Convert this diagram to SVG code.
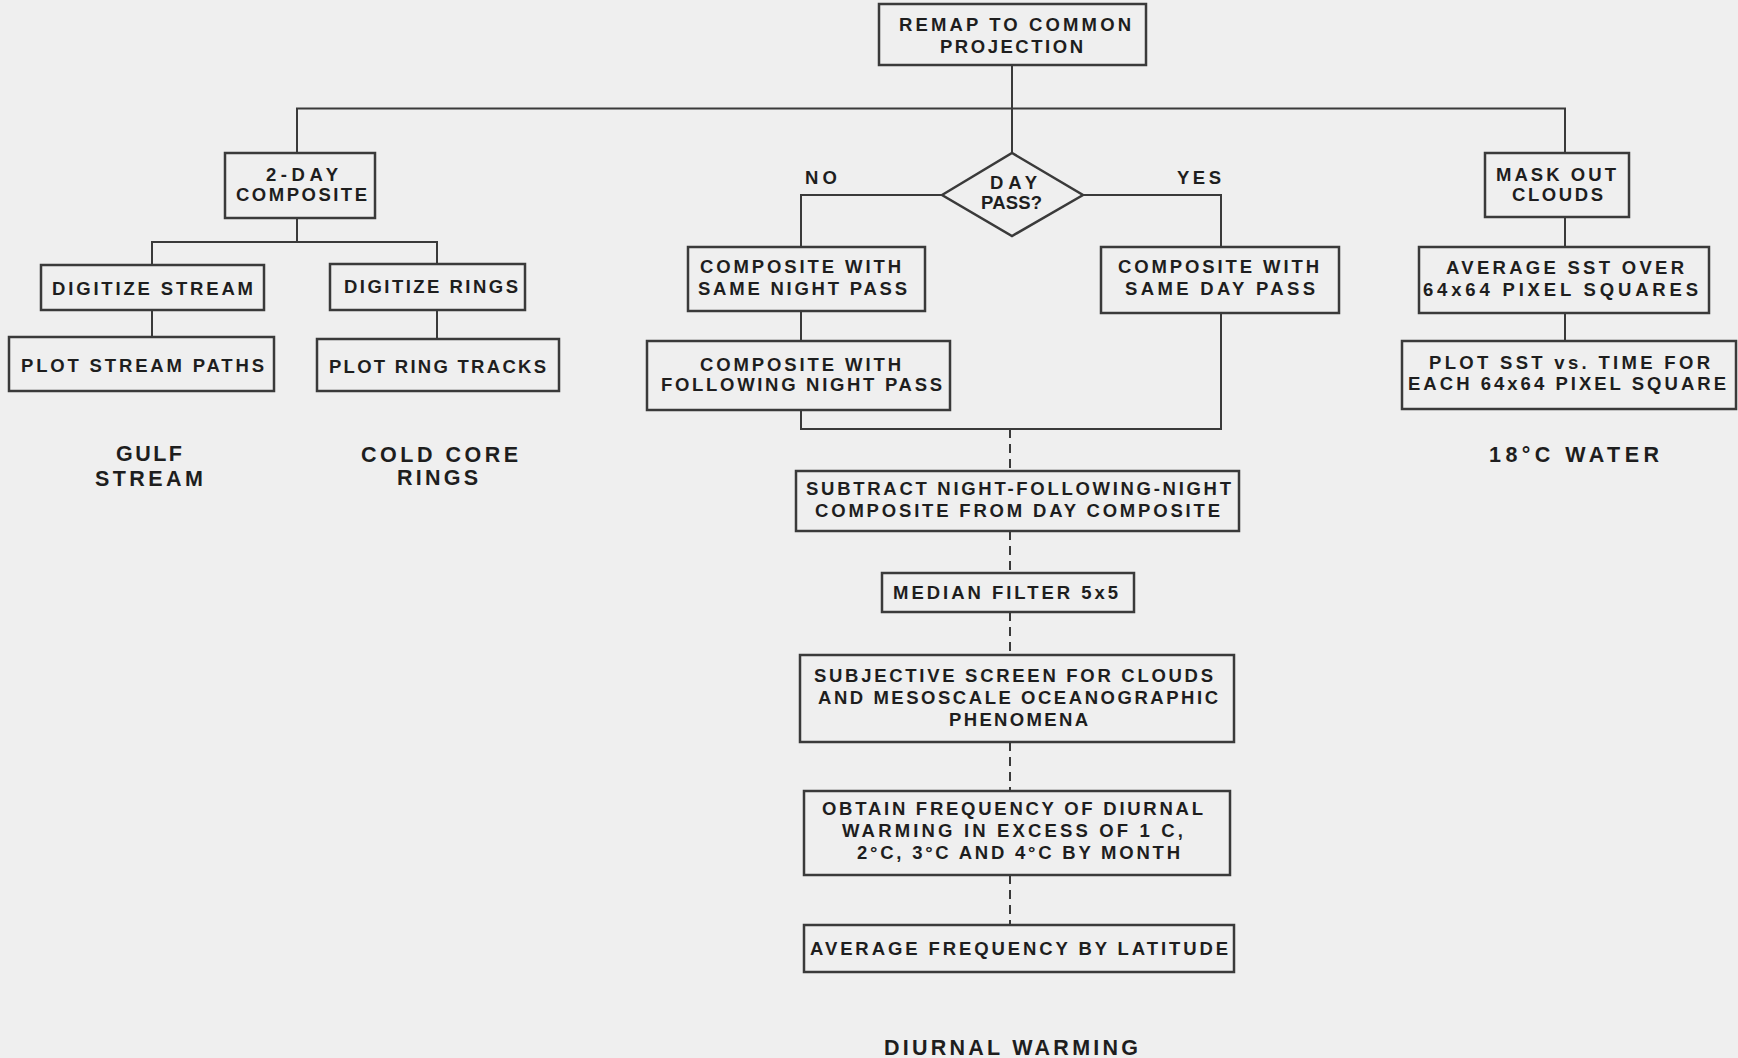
<svg xmlns="http://www.w3.org/2000/svg" width="1738" height="1058" viewBox="0 0 1738 1058">
<style>
.bg{fill:#efefef}
.box{fill:none;stroke:#3a3a3a;stroke-width:2.5}
.ln{fill:none;stroke:#3a3a3a;stroke-width:2}
.dash{fill:none;stroke:#3a3a3a;stroke-width:2;stroke-dasharray:9 6}
text{font-family:"Liberation Sans",Arial,sans-serif;fill:#1e1e1e}
.t{font-size:18.5px;font-weight:bold}
.lbl{font-size:21.5px;font-weight:bold}
</style>
<rect class="bg" x="0" y="0" width="1738" height="1058"/>
<g id="connectors">
<path class="ln" d="M1012 65 V153"/>
<path class="ln" d="M297 153 V108.5 H1565 V153"/>
<path class="ln" d="M297 218 V242"/>
<path class="ln" d="M152 265 V242 H437 V264"/>
<path class="ln" d="M152 310 V337"/>
<path class="ln" d="M437 310 V339"/>
<path class="ln" d="M942 195 H801 V247"/>
<path class="ln" d="M1083 195 H1221 V247"/>
<path class="ln" d="M801 311 V341"/>
<path class="ln" d="M801 410 V429 H1221 V313"/>
<path class="dash" d="M1010 429 V471"/>
<path class="dash" d="M1010 531 V573"/>
<path class="dash" d="M1010 612 V655"/>
<path class="dash" d="M1010 742 V791"/>
<path class="dash" d="M1010 875 V925"/>
<path class="ln" d="M1565 217 V247"/>
<path class="ln" d="M1565 313 V341"/>
</g>
<g id="remap"><rect class="box" x="879" y="4" width="267" height="61"/>
<text class="t" x="899" y="30.5" textLength="232">REMAP TO COMMON</text>
<text class="t" x="940" y="52.5" textLength="143">PROJECTION</text></g>
<g id="two-day"><rect class="box" x="225" y="153" width="150" height="65"/>
<text class="t" x="266" y="181" textLength="72">2-DAY</text>
<text class="t" x="236" y="201" textLength="131">COMPOSITE</text></g>
<g id="digitize-stream"><rect class="box" x="41" y="265" width="223" height="45"/>
<text class="t" x="52" y="295" textLength="201">DIGITIZE STREAM</text></g>
<g id="digitize-rings"><rect class="box" x="330" y="264" width="195" height="46"/>
<text class="t" x="344" y="293" textLength="174">DIGITIZE RINGS</text></g>
<g id="plot-stream"><rect class="box" x="9" y="337" width="265" height="54"/>
<text class="t" x="21" y="372" textLength="243">PLOT STREAM PATHS</text></g>
<g id="plot-rings"><rect class="box" x="317" y="339" width="242" height="52"/>
<text class="t" x="329" y="373" textLength="217">PLOT RING TRACKS</text></g>
<g id="label-gulf"><text class="lbl" x="116" y="460.5" textLength="66">GULF</text>
<text class="lbl" x="95" y="485.5" textLength="108">STREAM</text></g>
<g id="label-rings"><text class="lbl" x="361" y="462" textLength="157">COLD CORE</text>
<text class="lbl" x="397" y="485" textLength="81">RINGS</text></g>
<g id="day-pass"><polygon class="box" points="942,195 1012,153 1083,195 1012,236"/>
<text class="t" x="990" y="189" textLength="47">DAY</text>
<text class="t" x="981" y="209" textLength="61">PASS?</text></g>
<g id="label-no"><text class="t" x="805" y="184" textLength="32">NO</text></g>
<g id="label-yes"><text class="t" x="1177" y="184" textLength="44">YES</text></g>
<g id="same-night"><rect class="box" x="688" y="247" width="237" height="64"/>
<text class="t" x="700" y="273" textLength="201">COMPOSITE WITH</text>
<text class="t" x="698" y="295" textLength="209">SAME NIGHT PASS</text></g>
<g id="following-night"><rect class="box" x="647" y="341" width="303" height="69"/>
<text class="t" x="700" y="370.5" textLength="201">COMPOSITE WITH</text>
<text class="t" x="661" y="390.5" textLength="281">FOLLOWING NIGHT PASS</text></g>
<g id="same-day"><rect class="box" x="1101" y="247" width="238" height="66"/>
<text class="t" x="1118" y="273" textLength="201">COMPOSITE WITH</text>
<text class="t" x="1125" y="295" textLength="190">SAME DAY PASS</text></g>
<g id="subtract"><rect class="box" x="796" y="471" width="443" height="60"/>
<text class="t" x="806" y="495" textLength="425">SUBTRACT NIGHT-FOLLOWING-NIGHT</text>
<text class="t" x="815" y="517" textLength="405">COMPOSITE FROM DAY COMPOSITE</text></g>
<g id="median"><rect class="box" x="882" y="573" width="252" height="39"/>
<text class="t" x="893" y="599" textLength="225">MEDIAN FILTER 5x5</text></g>
<g id="subjective"><rect class="box" x="800" y="655" width="434" height="87"/>
<text class="t" x="814" y="682" textLength="399">SUBJECTIVE SCREEN FOR CLOUDS</text>
<text class="t" x="818" y="704" textLength="400">AND MESOSCALE OCEANOGRAPHIC</text>
<text class="t" x="949" y="726" textLength="139">PHENOMENA</text></g>
<g id="obtain"><rect class="box" x="804" y="791" width="426" height="84"/>
<text class="t" x="822" y="815" textLength="381">OBTAIN FREQUENCY OF DIURNAL</text>
<text class="t" x="842" y="837" textLength="341">WARMING IN EXCESS OF 1 C,</text>
<text class="t" x="857" y="859" textLength="323">2°C, 3°C AND 4°C BY MONTH</text></g>
<g id="avg-freq"><rect class="box" x="804" y="925" width="430" height="47"/>
<text class="t" x="810" y="955" textLength="418">AVERAGE FREQUENCY BY LATITUDE</text></g>
<g id="label-diurnal"><text class="lbl" x="884" y="1055" textLength="254">DIURNAL WARMING</text></g>
<g id="mask"><rect class="box" x="1485" y="153" width="144" height="64"/>
<text class="t" x="1496" y="181" textLength="120">MASK OUT</text>
<text class="t" x="1512" y="201" textLength="91">CLOUDS</text></g>
<g id="avg-sst"><rect class="box" x="1419" y="247" width="290" height="66"/>
<text class="t" x="1446" y="274" textLength="238">AVERAGE SST OVER</text>
<text class="t" x="1423" y="296" textLength="275">64x64 PIXEL SQUARES</text></g>
<g id="plot-sst"><rect class="box" x="1402" y="341" width="334" height="68"/>
<text class="t" x="1429" y="369" textLength="281">PLOT SST vs. TIME FOR</text>
<text class="t" x="1408" y="390" textLength="318">EACH 64x64 PIXEL SQUARE</text></g>
<g id="label-water"><text class="lbl" x="1489" y="462" textLength="170">18°C WATER</text></g>
</svg>
